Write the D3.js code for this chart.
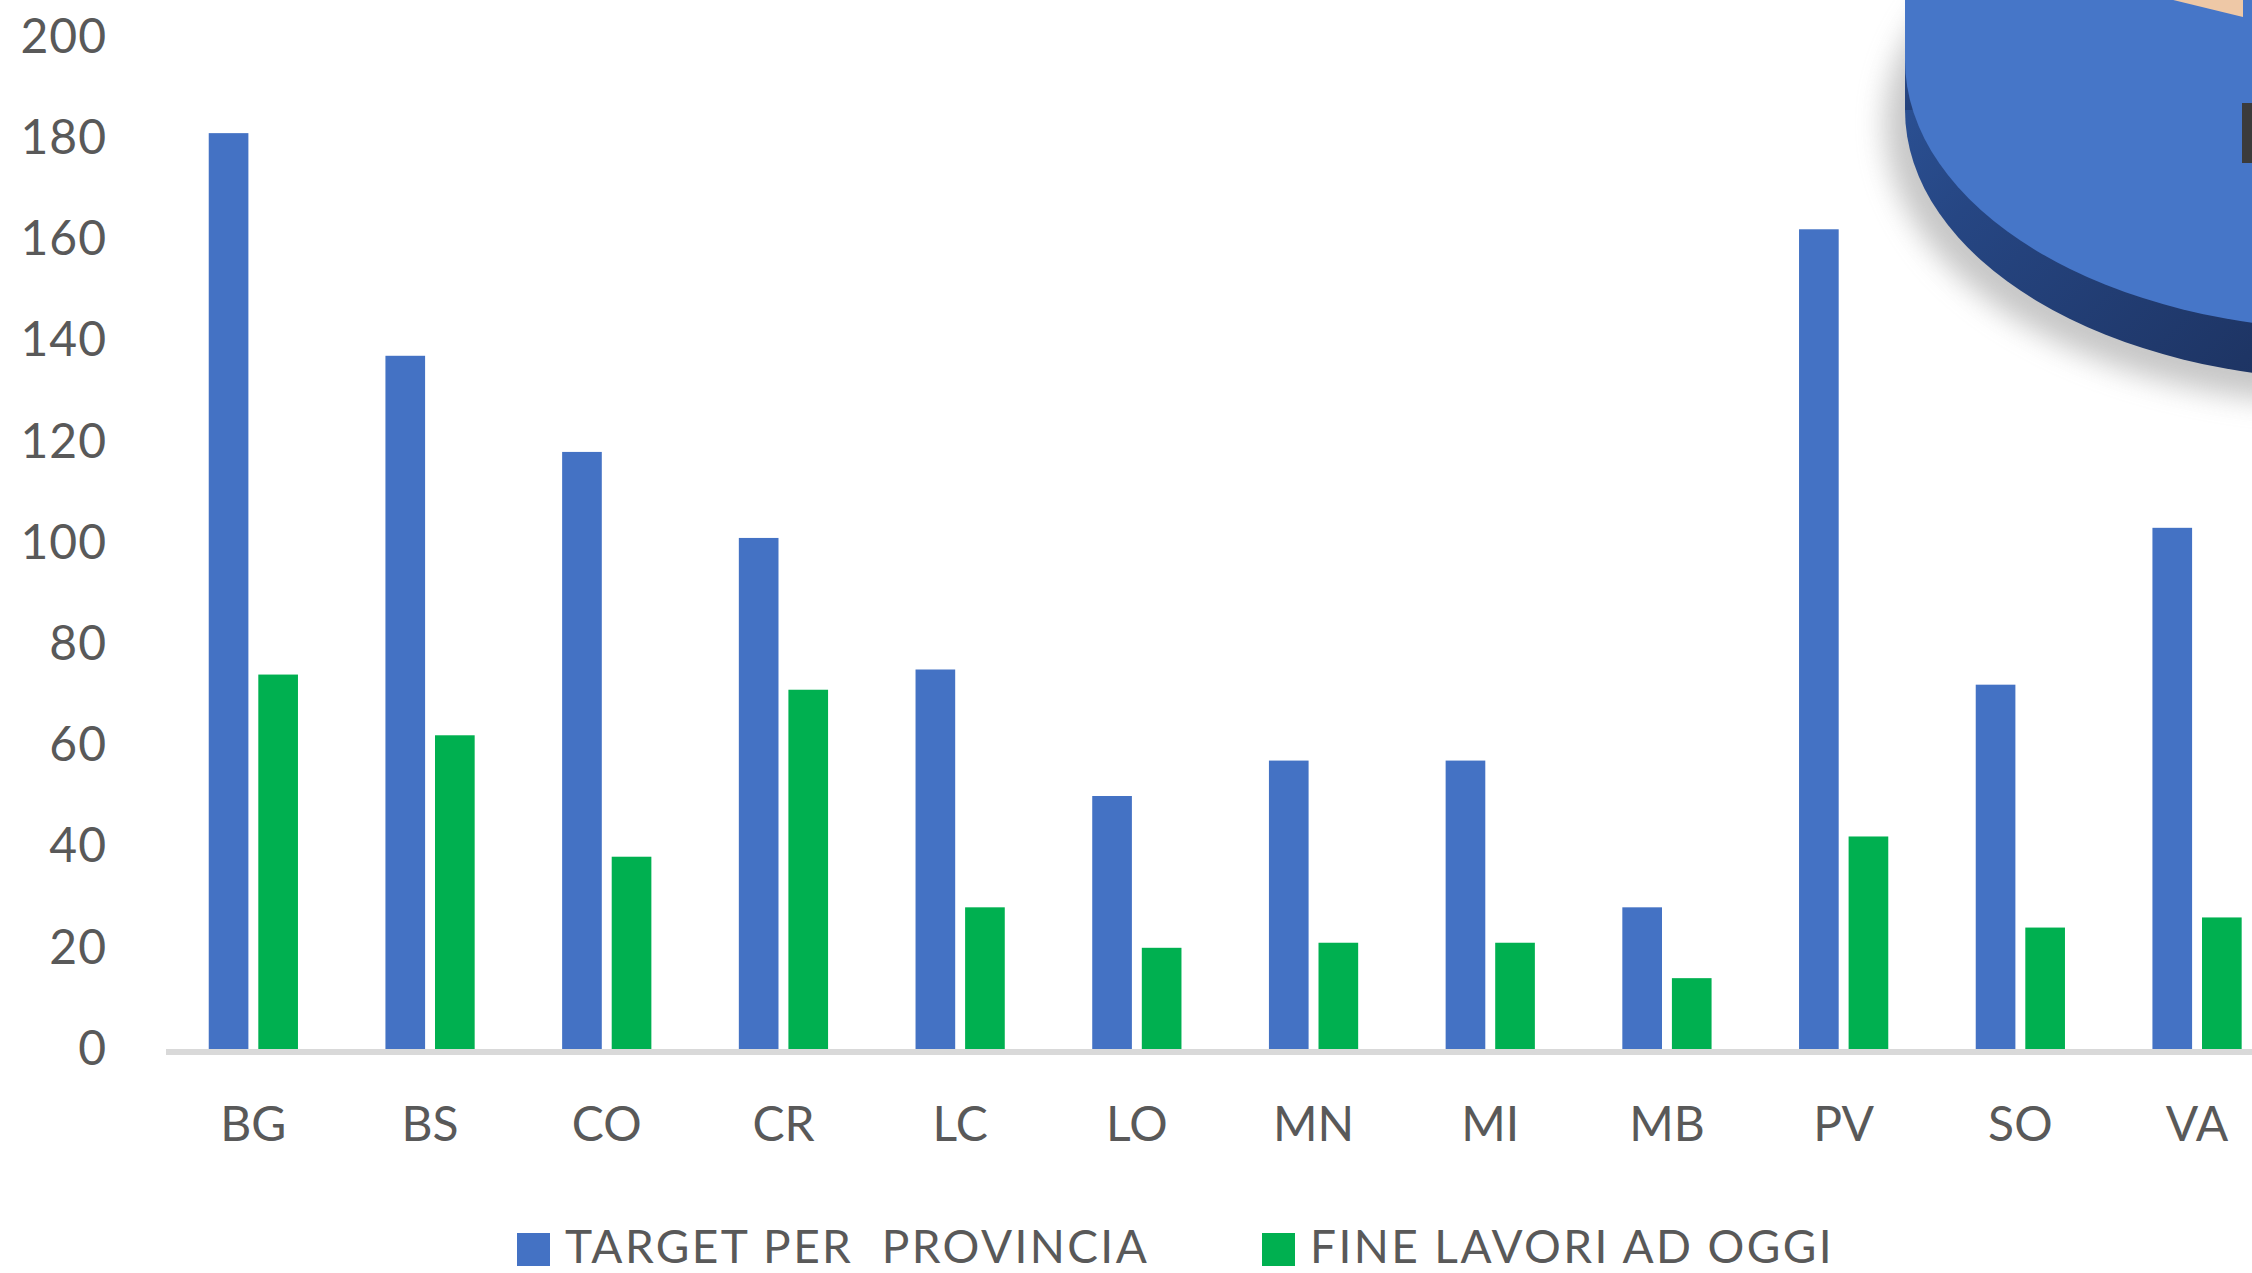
<!DOCTYPE html>
<html>
<head>
<meta charset="utf-8">
<script src="https://cdn.jsdelivr.net/npm/d3@7"></script>
<style>
  html, body { margin: 0; padding: 0; background: #fff; }
  svg { display: block; font-family: Lato, "Open Sans", sans-serif; }
</style>
</head>
<body>
<svg id="chart" width="2252" height="1273"></svg>
<script>
// Lombardia: target vs completed works per province (clustered columns)

const provinces = ["BG", "BS", "CO", "CR", "LC", "LO", "MN", "MI", "MB", "PV", "SO", "VA"];
const targetValues = [181, 137, 118, 101, 75, 50, 57, 57, 28, 162, 72, 103];
const doneValues = [74, 62, 38, 71, 28, 20, 21, 21, 14, 42, 24, 26];
const seriesNames = ["TARGET PER  PROVINCIA", "FINE LAVORI AD OGGI"];
const seriesColors = ["#4472C4", "#00B050"];
const yTicks = [0, 20, 40, 60, 80, 100, 120, 140, 160, 180, 200];

const W = 2252, H = 1273;
const TEXT = "#595959";

const svg = d3.select("#chart");

const x0 = d3.scaleBand()
  .domain(provinces)
  .range([165, 165 + 12 * 176.7])
  .paddingInner(0.495)
  .paddingOuter(0.2475);

const x1 = d3.scaleBand()
  .domain([0, 1])
  .range([0, x0.bandwidth()])
  .paddingInner(0.2);

const y = d3.scaleLinear().domain([0, 200]).range([1049, 37]);

const rows = provinces.map((p, i) => ({ p, vals: [targetValues[i], doneValues[i]] }));

// bars
const groups = svg.append("g").selectAll("g")
  .data(rows)
  .join("g")
    .attr("transform", d => `translate(${x0(d.p)},0)`);

groups.selectAll("rect")
  .data(d => d.vals.map((v, k) => ({ v, k })))
  .join("rect")
    .attr("x", d => x1(d.k))
    .attr("y", d => y(d.v))
    .attr("width", x1.bandwidth())
    .attr("height", d => y(0) - y(d.v))
    .attr("fill", d => seriesColors[d.k]);

// category axis line
svg.append("line")
  .attr("x1", 166).attr("x2", W)
  .attr("y1", y(0) + 3).attr("y2", y(0) + 3)
  .attr("stroke", "#D9D9D9")
  .attr("stroke-width", 6);

// y axis labels
const yAxis = svg.append("g")
  .attr("transform", "translate(165,0)")
  .call(d3.axisLeft(y).tickValues(yTicks).tickSize(0).tickPadding(58));
yAxis.select(".domain").remove();
yAxis.selectAll("text")
  .attr("fill", TEXT)
  .style("font-family", "Lato, 'Open Sans', sans-serif")
  .style("font-size", "48px")
  .style("letter-spacing", "1px");

// x labels
svg.append("g").selectAll("text")
  .data(provinces)
  .join("text")
    .attr("x", d => x0(d) + x0.bandwidth() / 2)
    .attr("y", 1141)
    .attr("text-anchor", "middle")
    .attr("fill", TEXT)
    .style("font-size", "48px")
    .text(d => d);

// legend (sits at the very bottom edge, as in the original)
const legendX = [517, 1262];
const legend = svg.append("g").selectAll("g")
  .data(seriesNames)
  .join("g")
    .attr("transform", (d, i) => `translate(${legendX[i]},0)`);
legend.append("rect")
  .attr("y", 1233).attr("width", 33).attr("height", 33)
  .attr("fill", (d, i) => seriesColors[i]);
legend.append("text")
  .attr("x", 48).attr("y", 1263)
  .attr("fill", TEXT)
  .style("font-size", "46px")
  .style("letter-spacing", "2.4px")
  .style("white-space", "pre")
  .attr("xml:space", "preserve")
  .text(d => d);

// overlapping 3D pie picture in the top-right corner (cropped)
const defs = svg.append("defs");
defs.append("filter").attr("id", "soft")
  .attr("x", "-20%").attr("y", "-20%").attr("width", "140%").attr("height", "140%")
  .append("feGaussianBlur").attr("stdDeviation", 14);
const sideGrad = defs.append("linearGradient").attr("id", "side")
  .attr("x1", "0").attr("y1", "0").attr("x2", "1").attr("y2", "0.6");
sideGrad.append("stop").attr("offset", "0%").attr("stop-color", "#3260ac");
sideGrad.append("stop").attr("offset", "35%").attr("stop-color", "#264683");
sideGrad.append("stop").attr("offset", "70%").attr("stop-color", "#1e3565");
sideGrad.append("stop").attr("offset", "100%").attr("stop-color", "#1a2d55");

const pie = { cx: 2355, cy: 60, rx: 450, ry: 270, depth: 50 };
const pieG = svg.append("g");
pieG.append("ellipse")
  .attr("cx", pie.cx - 8).attr("cy", pie.cy + pie.depth + 14)
  .attr("rx", pie.rx + 12).attr("ry", pie.ry + 10)
  .attr("fill", "#9a9a9a").attr("opacity", 0.55)
  .attr("filter", "url(#soft)");
pieG.append("ellipse")
  .attr("cx", pie.cx).attr("cy", pie.cy + pie.depth)
  .attr("rx", pie.rx).attr("ry", pie.ry)
  .attr("fill", "url(#side)");
pieG.append("rect")
  .attr("x", pie.cx - pie.rx).attr("y", -10)
  .attr("width", pie.rx * 2).attr("height", pie.cy + pie.depth + 10)
  .attr("fill", "url(#side)");
pieG.append("ellipse")
  .attr("cx", pie.cx).attr("cy", pie.cy)
  .attr("rx", pie.rx).attr("ry", pie.ry)
  .attr("fill", "#4676C8");
pieG.append("rect")
  .attr("x", pie.cx - pie.rx).attr("y", -10)
  .attr("width", pie.rx * 2).attr("height", pie.cy + 10)
  .attr("fill", "#4676C8");
pieG.append("path")
  .attr("d", "M2165,-2 L2243,17 L2243,-2 Z")
  .attr("fill", "#EEC8A6");
pieG.append("rect")
  .attr("x", 2242).attr("y", 103).attr("width", 12).attr("height", 60)
  .attr("fill", "#3b3b3b");
</script>
</body>
</html>
